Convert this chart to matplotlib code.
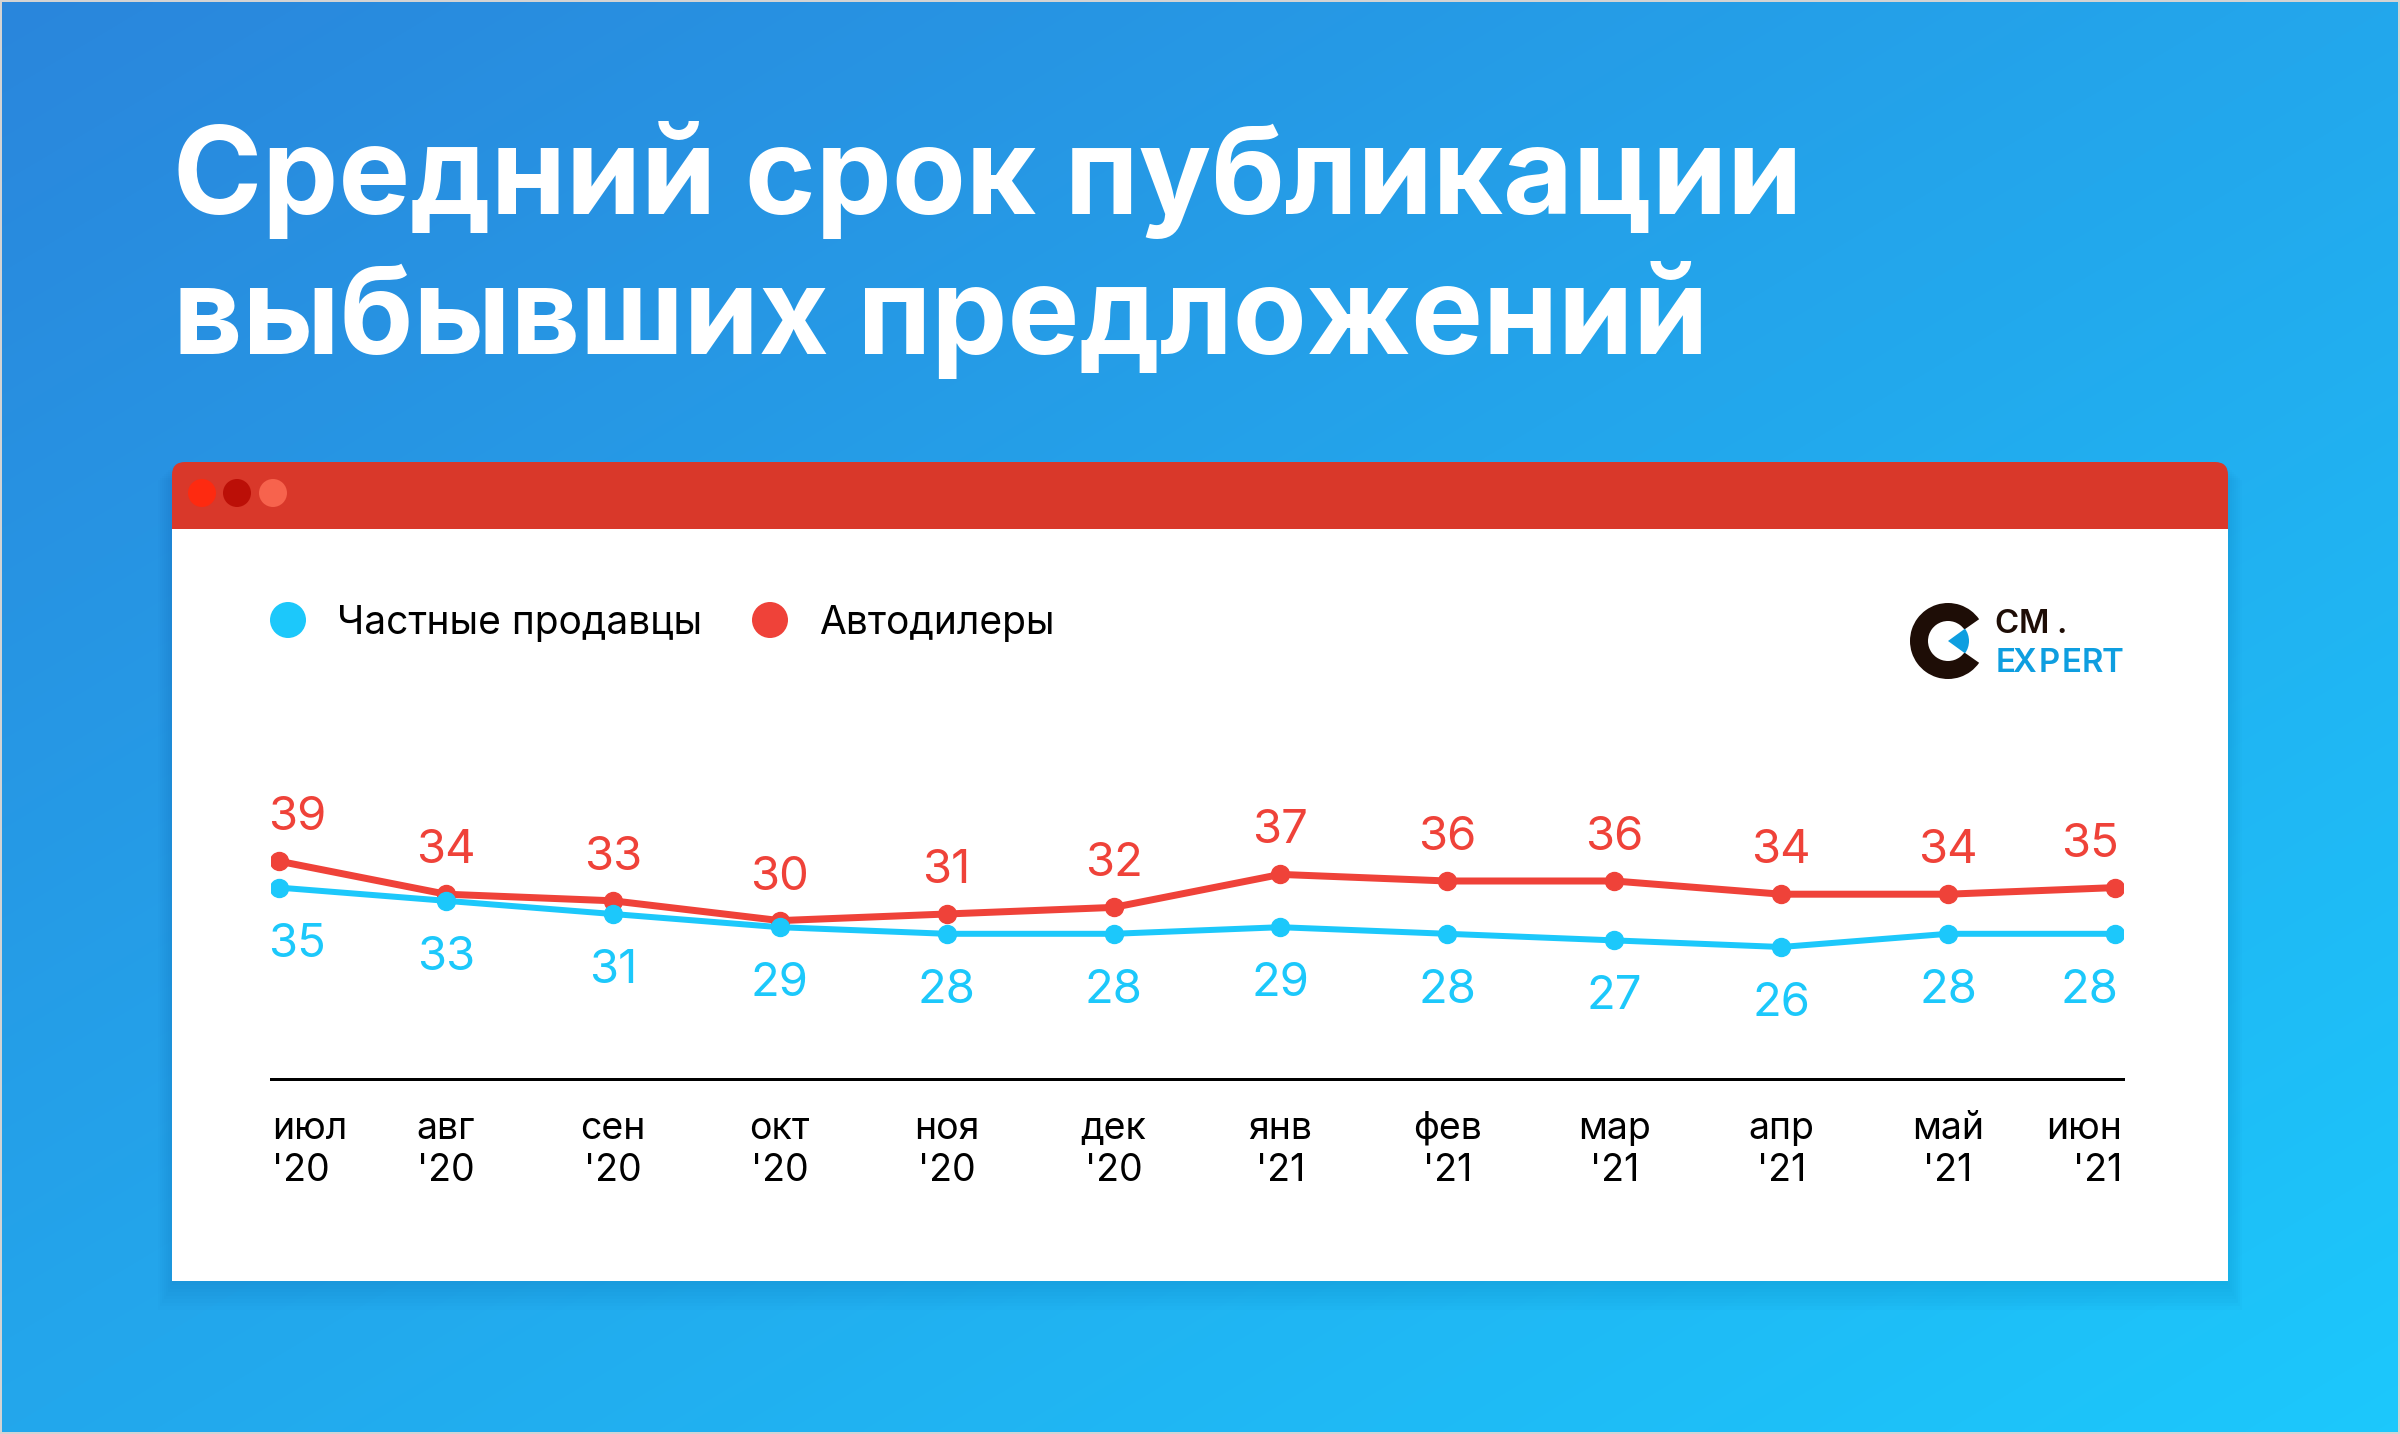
import numpy as np
import matplotlib
matplotlib.use("Agg")
import matplotlib.pyplot as plt
import matplotlib.transforms as mtransforms
from matplotlib.patches import Rectangle, FancyBboxPatch, Circle, Wedge
from matplotlib.colors import LinearSegmentedColormap

# data
months = ["июл", "авг", "сен", "окт", "ноя", "дек", "янв", "фев", "мар", "апр", "май", "июн"]
years = ["'20"] * 6 + ["'21"] * 6
private_sellers = [35, 33, 31, 29, 28, 28, 29, 28, 27, 26, 28, 28]
dealers = [39, 34, 33, 30, 31, 32, 37, 36, 36, 34, 34, 35]

title_lines = ["Средний срок публикации", "выбывших предложений"]
legend_labels = ["Частные продавцы", "Автодилеры"]

BLUE = "#1cc8fb"
RED = "#ef4239"
DARK = "#1e0d06"
LOGO_BLUE = "#0e9ee0"

W, H, DPI = 2400, 1434, 100
PX = 72 / DPI  # points per pixel

plt.rcParams["font.family"] = ["Inter", "DejaVu Sans"]

fig = plt.figure(figsize=(W / DPI, H / DPI), dpi=DPI)
bg = fig.add_axes([0, 0, 1, 1])
bg.set_xlim(0, W)
bg.set_ylim(H, 0)
bg.axis("off")

# background gradient
yy, xx = np.mgrid[0:1:200j, 0:1:300j]
grad = (xx + yy) / 2
cmap = LinearSegmentedColormap.from_list("bg", ["#2a86dc", "#23a7ec", "#1cc8fc"])
bg.imshow(grad, cmap=cmap, extent=(0, W, H, 0), aspect="auto",
          interpolation="bilinear", zorder=0)
bg.add_patch(Rectangle((0, 0), W, H, fill=False, ec="#d3d3d3", lw=4 * PX, zorder=10))

# title
renderer = fig.canvas.get_renderer()
t1 = bg.text(173, 214, title_lines[0], fontsize=85, fontweight="bold",
             color="white", va="baseline", ha="left")
w1 = t1.get_window_extent(renderer).width
title_size = 85 * 1630 / w1
t1.set_fontsize(title_size)
bg.text(173, 354, title_lines[1], fontsize=title_size, fontweight="bold",
        color="white", va="baseline", ha="left")

# card with shadow
card_l, card_r, card_t, card_b = 172, 2228, 462, 1281
for k in range(8):
    bg.add_patch(Rectangle((card_l - k * 2, card_t + 4 + k * 2),
                           card_r - card_l + k * 4, card_b - card_t + k * 1.5,
                           color="#0b3a73", alpha=0.015, lw=0, zorder=1))
bg.add_patch(Rectangle((card_l, 500), card_r - card_l, card_b - 500,
                       color="white", lw=0, zorder=2))
bg.add_patch(FancyBboxPatch((card_l, card_t), card_r - card_l, 67,
                            boxstyle="round,pad=0,rounding_size=13",
                            color="#d9382a", lw=0, zorder=2))
bg.add_patch(Rectangle((card_l, 500), card_r - card_l, 29,
                       color="#d9382a", lw=0, zorder=2))
for cx, col in zip([202, 237, 273], ["#fe2a10", "#bb0f07", "#f7634d"]):
    bg.add_patch(Circle((cx, 493), 14, color=col, lw=0, zorder=3))

# legend
for cx, col, lab in zip([288, 770], [BLUE, RED], legend_labels):
    bg.add_patch(Circle((cx, 620), 18, color=col, lw=0, zorder=3))
    bg.text(cx + 49, 634, lab, fontsize=28, color="black",
            va="baseline", ha="left", zorder=3)

# logo
lc = (1948, 641)
bg.add_patch(Wedge(lc, 38, 35, 325, width=18, color=DARK, lw=0, zorder=3))
bg.add_patch(Wedge(lc, 21, -36, 36, color=LOGO_BLUE, lw=0, zorder=3))
for ch, x in zip("CM.", [1994, 2019, 2056]):
    bg.text(x, 633, ch, fontsize=24 / 0.727 * PX, fontweight="semibold",
            color=DARK, va="baseline", ha="left", zorder=3)
for ch, x in zip("EXPERT", [1996, 2012, 2039, 2062, 2082, 2102]):
    bg.text(x, 672, ch, fontsize=24 / 0.727 * PX, fontweight="semibold",
            color=LOGO_BLUE, va="baseline", ha="left", zorder=3)

# chart axes
ax_l, ax_r, ax_b, ax_t = 271, 2123, 1079, 740
ax = fig.add_axes([ax_l / W, 1 - ax_b / H, (ax_r - ax_l) / W, (ax_b - ax_t) / H])
ax.patch.set_alpha(0)
px_per_unit = 6.6
ax.set_ylim(6, 6 + (ax_b - ax_t) / px_per_unit)
step = (2115 - 279) / 11
ax.set_xlim(-(279 - ax_l) / step, 11 + (ax_r - 2115) / step)

x = np.arange(len(months))
ax.plot(x, dealers, color=RED, lw=7 * PX, marker="o", ms=18 * PX,
        solid_capstyle="round", zorder=3)
ax.plot(x, private_sellers, color=BLUE, lw=6 * PX, marker="o", ms=18 * PX,
        solid_capstyle="round", zorder=4)

n = len(months)
for i, (d, p) in enumerate(zip(dealers, private_sellers)):
    if i == 0:
        ha, xi, dx = "left", ax.get_xlim()[0], -3
    elif i == n - 1:
        ha, xi, dx = "right", i, 4
    else:
        ha, xi, dx = "center", i, 0
    ax.annotate(str(d), (xi, d), xytext=(dx, 31), textcoords="offset pixels",
                ha=ha, va="baseline", fontsize=34, color=RED)
    ax.annotate(str(p), (xi, p), xytext=(dx, -69), textcoords="offset pixels",
                ha=ha, va="baseline", fontsize=34, color=BLUE)

ax.set_xticks(x, [f"{m}\n{y}" for m, y in zip(months, years)])
ax.set_yticks([])
ax.tick_params(axis="x", length=0, pad=23, labelsize=27, labelcolor="black")
labels = ax.get_xticklabels()
for lab in labels:
    lab.set_linespacing(1.2)
labels[0].set_ha("left")
labels[-1].set_ha("right")
labels[0].set_transform(labels[0].get_transform()
                        + mtransforms.Affine2D().translate(-7, 0))
labels[-1].set_transform(labels[-1].get_transform()
                         + mtransforms.Affine2D().translate(7, 0))
for s in ["top", "left", "right"]:
    ax.spines[s].set_visible(False)
ax.spines["bottom"].set_linewidth(3 * PX)
ax.spines["bottom"].set_color("black")

fig.savefig("out.png", dpi=DPI)
